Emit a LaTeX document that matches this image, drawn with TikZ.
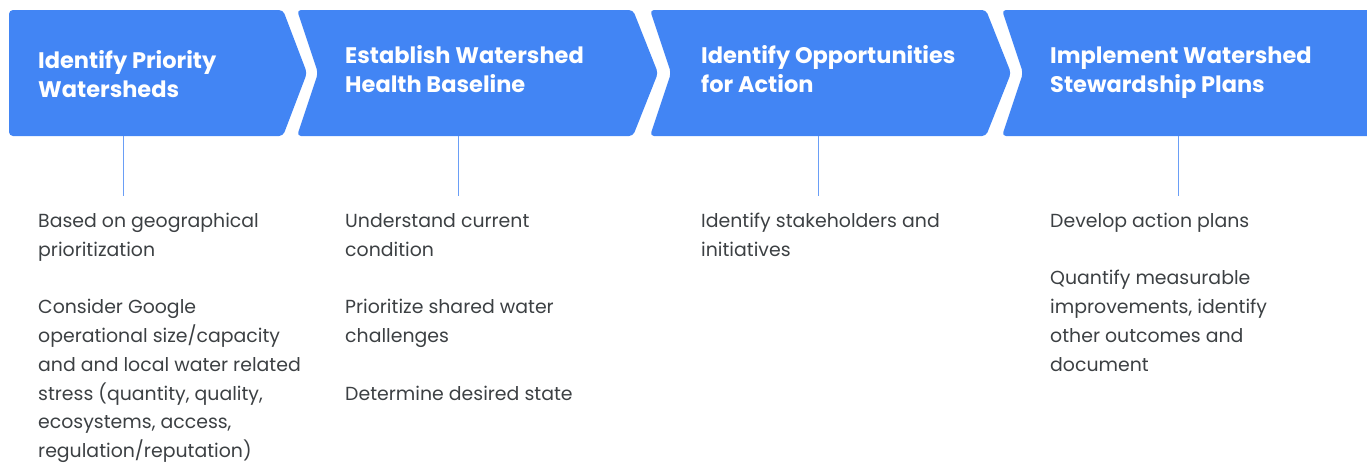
\documentclass[tikz,border=0pt]{standalone}
\usepackage{fontspec}
\setmainfont{Poppins}
\usepackage{xcolor}
\definecolor{gblue}{HTML}{4285F4}
\definecolor{ggrey}{HTML}{3C4043}
\definecolor{gline}{HTML}{6A9EF6}

\begin{document}
\begin{tikzpicture}[x=1pt,y=-1pt,
	chev/.style={fill=gblue, rounded corners=4pt},
	title/.style={anchor=north west, inner sep=0pt, align=left, text=white,
		font=\fontsize{22.5}{29.5}\selectfont\bfseries},
	body/.style={anchor=north west, inner sep=0pt, align=left, text=ggrey,
		font=\fontsize{18.9}{28.8}\selectfont},
	stem/.style={draw=gline, line width=1pt}]
		\useasboundingbox (0,0) rectangle (1367,464);
		
		%draw chevrons
		\fill[chev] (9,10) -- (283,10) -- (307,73) -- (283,136) -- (9,136) -- cycle;
		\foreach \x in {0,353}
		\fill[chev,xshift=\x] (297,10) -- (633,10) -- (658,73) -- (633,136) -- (297,136) -- (318,73) -- cycle;
		\fill[chev] (1002,10) -- (1380,10) -- (1380,136) -- (1002,136) -- (1023,73) -- cycle;
		
		%stems below the chevrons
		\foreach \x/\n in {123/1,458/2,818/3,1178/4}{
			\coordinate (top\n) at (\x,136);
			\coordinate (end\n) at (\x,196);
			\draw[stem] (top\n) -- (end\n);
		}
		
		%titles
		\node[title] (title1) at (38,47.35) {\strut Identify Priority\\Watersheds};
		\node[title] (title2) at (345,42.35) {\strut Establish Watershed\\Health Baseline};
		\node[title] (title3) at (701,42.35) {\strut Identify Opportunities\\for Action};
		\node[title] (title4) at (1050,42.35) {\strut Implement Watershed\\Stewardship Plans};
		
		%text under each step
		\node[body] (text1) at (38,206.84) {\strut Based on geographical\\prioritization\\[28.8pt]
			Consider Google\\operational size/capacity\\and and local water related\\stress (quantity, quality,\\ecosystems, access,\\regulation/reputation)};
		\node[body] (text2) at (345,206.84) {\strut Understand current\\condition\\[28.8pt]
			Prioritize shared water\\challenges\\[28.8pt]Determine desired state};
		\node[body] (text3) at (701,206.84) {\strut Identify stakeholders and\\initiatives};
		\node[body] (text4) at (1050,206.84) {\strut Develop action plans\\[28.8pt]
			Quantify measurable\\improvements, identify\\other outcomes and\\document};
	
	\end{tikzpicture}
\end{document}
